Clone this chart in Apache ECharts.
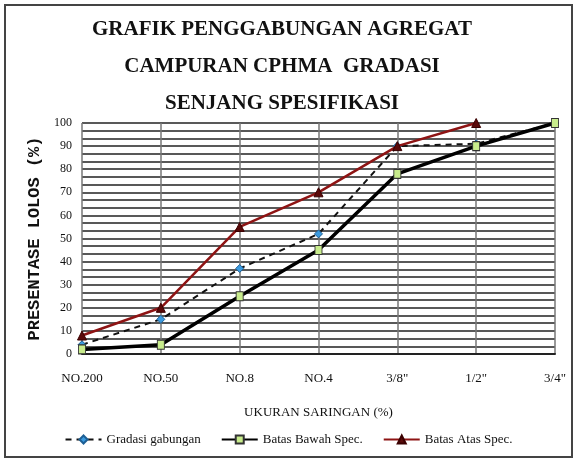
<!DOCTYPE html>
<html>
<head>
<meta charset="utf-8">
<script src="https://cdn.jsdelivr.net/npm/echarts@6/dist/echarts.min.js"></script>
<style>
  html, body { margin: 0; padding: 0; background: #fff; }
  #chart { width: 577px; height: 463px; }
</style>
</head>
<body>
<div id="chart"></div>
<script>
// ukuran saringan
const sieves = ['NO.200', 'NO.50', 'NO.8', 'NO.4', '3/8"', '1/2"', '3/4"'];
// persentase lolos
const gradasiGabungan = [4, 15, 37, 52, 90, 91, 100];
const batasBawah = [2, 4, 25, 45, 78, 90, 100];
const batasAtas = [8, 20, 55, 70, 90, 100, null];

const chart = echarts.init(document.getElementById('chart'));
const serif = 'Liberation Serif';

const option = {
  animation: false,
  title: {
    text: 'GRAFIK PENGGABUNGAN AGREGAT\nCAMPURAN CPHMA  GRADASI\nSENJANG SPESIFIKASI',
    left: 277,
    textAlign: 'center',
    top: 6,
    textStyle: {
      fontFamily: serif,
      fontWeight: 'bold',
      fontSize: 21,
      lineHeight: 37,
      color: '#111'
    }
  },
  graphic: [{
    type: 'rect',
    shape: { x: 5, y: 5, width: 567, height: 452 },
    style: { fill: 'none', stroke: '#444', lineWidth: 2 }
  }],
  grid: { left: 82, right: 22, top: 123, bottom: 109 },
  legend: {
    bottom: 12,
    left: 'center',
    itemGap: 20,
    itemWidth: 36,
    itemHeight: 10,
    textStyle: { fontFamily: serif, fontSize: 13, color: '#111' },
    data: ['Gradasi gabungan', 'Batas Bawah Spec.', 'Batas Atas Spec.']
  },
  xAxis: {
    type: 'category',
    data: sieves,
    boundaryGap: false,
    name: 'UKURAN SARINGAN (%)',
    nameLocation: 'middle',
    nameGap: 52,
    nameTextStyle: { fontFamily: serif, fontSize: 13, color: '#111' },
    axisLine: { lineStyle: { color: '#222', width: 2 } },
    axisTick: { show: false },
    axisLabel: { fontFamily: serif, fontSize: 13, color: '#111', margin: 18 },
    splitLine: { show: true, lineStyle: { color: '#777', width: 1.5 } }
  },
  yAxis: {
    type: 'value',
    min: 0,
    max: 100,
    interval: 10,
    name: 'PRESENTASE LOLOS (%)',
    nameLocation: 'middle',
    nameGap: 38,
    nameTextStyle: { fontFamily: 'Liberation Mono', fontWeight: 'bold', fontSize: 17, color: '#111' },
    axisLine: { show: false },
    axisTick: { show: false },
    axisLabel: { fontFamily: serif, fontSize: 12, color: '#111', margin: 10 },
    splitLine: { show: true, lineStyle: { color: '#222', width: 1.5 } },
    minorTick: { show: false, splitNumber: 3 },
    minorSplitLine: { show: true, lineStyle: { color: '#222', width: 1.5 } }
  },
  series: [
    {
      name: 'Gradasi gabungan',
      type: 'line',
      data: gradasiGabungan,
      symbol: 'diamond',
      symbolSize: 8,
      itemStyle: { color: '#3b9be0', borderColor: '#1d5f95', borderWidth: 1 },
      lineStyle: { color: '#111', width: 2, type: [6, 5] },
      z: 3
    },
    {
      name: 'Batas Bawah Spec.',
      type: 'line',
      data: batasBawah,
      symbol: 'rect',
      symbolSize: [7, 9],
      itemStyle: { color: '#c8ec8c', borderColor: '#333', borderWidth: 1 },
      lineStyle: { color: '#000', width: 3.5 },
      z: 4
    },
    {
      name: 'Batas Atas Spec.',
      type: 'line',
      data: batasAtas,
      symbol: 'triangle',
      symbolSize: 9,
      itemStyle: { color: '#5a0a0a', borderColor: '#3a0000', borderWidth: 1 },
      lineStyle: { color: '#8e1414', width: 2.5 },
      z: 5
    }
  ]
};

chart.setOption(option);
</script>
</body>
</html>
